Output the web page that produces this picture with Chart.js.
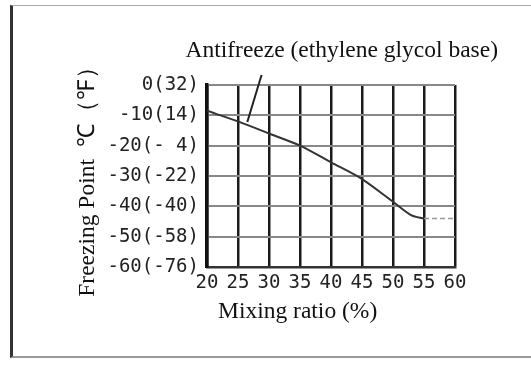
<!DOCTYPE html>
<html>
<head>
<meta charset="utf-8">
<script src="https://cdn.jsdelivr.net/npm/chart.js@4.4.1/dist/chart.umd.min.js"></script>
<style>
  html, body { margin: 0; padding: 0; background: #fff; }
  #frame {
    position: absolute; left: 10px; top: 5px; width: 521px; height: 350px;
    border-left: 3px solid #333; border-top: 1px solid #aaa; border-bottom: 2px solid #999;
  }
  #wrap { position: absolute; left: 0; top: 0; width: 531px; height: 367px; }
</style>
</head>
<body>
<div id="frame"></div>
<div id="wrap"><canvas id="chart" width="531" height="367"></canvas></div>
<script>
// mixing ratio (%) vs freezing point (°C)
const ratios = [20, 25, 30, 35, 40, 45, 50, 53, 55];
const freezing = [-8.5, -12, -16, -20, -25.5, -31, -38.5, -43, -44];
// faint continuation past 55 %
const tailRatios = [55, 60];
const tailFreezing = [-44, -44];
// leader line from the curve up to the caption
const leaderRatios = [26.5, 28.8];
const leaderValues = [-12.2, 3.3];

const yTickValues = [0, -10, -20, -30, -40, -50, -60];
const yTickLabels = ['0(32)', '-10(14)', '-20(- 4)', '-30(-22)', '-40(-40)', '-50(-58)', '-60(-76)'];

const caption = 'Antifreeze (ethylene glycol base)';
const xTitle = 'Mixing ratio (%)';
const yTitle = 'Freezing Point  ℃（℉）';

const toPoints = (xs, ys) => xs.map((x, i) => ({ x, y: ys[i] }));

const serif = '"Liberation Serif", "Times New Roman", serif';
const mono = '"DejaVu Sans Mono", monospace';

// caption and x title are placed by hand relative to the plot box
const textPlugin = {
  id: 'extraText',
  afterDraw(chart) {
    const { ctx, chartArea } = chart;
    ctx.save();
    ctx.fillStyle = '#111';
    ctx.font = '23.5px ' + serif;
    ctx.textBaseline = 'alphabetic';
    ctx.textAlign = 'right';
    ctx.fillText(caption, chartArea.right + 43, chartArea.top - 28);
    ctx.textAlign = 'left';
    ctx.fillText(xTitle, chartArea.left + 11, chartArea.bottom + 51);
    ctx.restore();
  },
};

const ctx = document.getElementById('chart').getContext('2d');
new Chart(ctx, {
  type: 'line',
  data: {
    datasets: [
      {
        data: toPoints(ratios, freezing),
        borderColor: '#333',
        borderWidth: 2,
        pointRadius: 0,
        tension: 0.3,
      },
      {
        data: toPoints(tailRatios, tailFreezing),
        borderColor: '#999',
        borderWidth: 1.5,
        borderDash: [5, 3],
        pointRadius: 0,
      },
      {
        data: toPoints(leaderRatios, leaderValues),
        borderColor: '#222',
        borderWidth: 2,
        pointRadius: 0,
        clip: false,
      },
    ],
  },
  options: {
    responsive: false,
    animation: false,
    layout: { padding: { left: 70, top: 85, right: 76, bottom: 0 } },
    plugins: { legend: { display: false }, tooltip: { enabled: false } },
    scales: {
      x: {
        type: 'linear',
        min: 20,
        max: 60,
        ticks: {
          stepSize: 5,
          padding: 5,
          color: '#222',
          font: { family: mono, size: 19 },
        },
        grid: { color: '#1a1a1a', lineWidth: 2.5, drawTicks: false },
        border: { color: '#333', width: 2.5 },
        afterFit: (scale) => { scale.height = 100; },
      },
      y: {
        min: -60,
        max: 0,
        afterBuildTicks: (scale) => {
          scale.ticks = yTickValues.map((v) => ({ value: v }));
        },
        ticks: {
          padding: 8,
          color: '#222',
          font: { family: mono, size: 19 },
          callback: (v) => yTickLabels[yTickValues.indexOf(v)],
        },
        grid: { color: '#888', lineWidth: 2, drawTicks: false },
        border: { color: '#111', width: 3.5 },
        title: {
          display: true,
          text: yTitle,
          color: '#111',
          font: { family: serif, size: 23.5 },
          padding: { top: 4, bottom: 0 },
        },
        afterFit: (scale) => { scale.width = 137; },
      },
    },
  },
  plugins: [textPlugin],
});
</script>
</body>
</html>
